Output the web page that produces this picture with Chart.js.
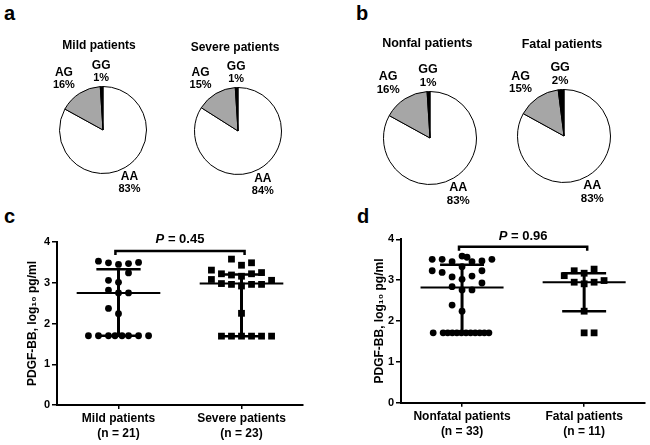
<!DOCTYPE html>
<html><head><meta charset="utf-8">
<script src="https://cdn.jsdelivr.net/npm/chart.js@4.4.0/dist/chart.umd.min.js"></script>
<style>
html,body{margin:0;padding:0;background:#fff;}
#wrap{position:relative;width:650px;height:445px;overflow:hidden;background:#fff;font-family:"Liberation Sans",Arial,sans-serif;}
canvas{position:absolute;}
.lbl{position:absolute;font-weight:bold;font-size:20px;line-height:20px;color:#000;}
</style></head><body>
<div id="wrap">
<div class="lbl" style="left:4px;top:3px">a</div>
<div class="lbl" style="left:356px;top:3px">b</div>
<div class="lbl" style="left:4px;top:206px">c</div>
<div class="lbl" style="left:357px;top:206px">d</div>
<canvas id="pMild" width="160" height="200" style="left:23px;top:20px"></canvas>
<canvas id="pSevere" width="160" height="200" style="left:158px;top:21px"></canvas>
<canvas id="pNonfatal" width="160" height="200" style="left:350px;top:28px"></canvas>
<canvas id="pFatal" width="160" height="200" style="left:484px;top:26px"></canvas>
<canvas id="cChart" width="325" height="225" style="left:0px;top:220px"></canvas>
<canvas id="dChart" width="325" height="225" style="left:325px;top:220px"></canvas>
</div>
<script>
// ---------- data ----------
const genotypes = ['AA', 'AG', 'GG'];
const mildPct = [83, 16, 1];
const severePct = [84, 15, 1];
const nonfatalPct = [83, 16, 1];
const fatalPct = [83, 15, 2];

const yTicks = [0, 1, 2, 3, 4];

const cCategories = ['Mild patients', 'Severe patients'];
const cCounts = ['(n = 21)', '(n = 23)'];
const dCategories = ['Nonfatal patients', 'Fatal patients'];
const dCounts = ['(n = 33)', '(n = 11)'];

const mildValues = [3.53,3.49,3.45,3.47,3.50, 3.24, 3.06,3.01, 2.82,2.75,2.75, 2.37,2.24, 1.70,1.70,1.70,1.70,1.70,1.70,1.70,1.70];
const mildSlots  = [-2,-1,0,1,2, 1, -1,0, -1,0,1, -1,0, -3,-2,-1,-0.35,0.35,1,2,3];
const mildStats  = [1.70, 2.75, 3.33]; // q1, median, q3

const severeValues = [3.58,3.43,3.49, 3.31,3.22,3.19,3.16,3.22,3.25, 3.08,2.98,2.96,2.92,2.96,2.96,3.06, 2.25, 1.69,1.69,1.69,1.69,1.69,1.69];
const severeSlots  = [-1,0,1, -3,-2,-1,0,1,2, -3,-2,-1,0,1,2,3, 0, -2,-1,0,1,2,3];
const severeStats  = [1.69, 2.98, 3.20];

const nonfatalValues = [3.51,3.51,3.45,3.59,3.56,3.45,3.47,3.51, 3.33, 3.23,3.19,3.23, 3.08,3.02,3.10, 2.93, 2.84,2.76,2.76, 2.39, 2.24,
  1.71,1.71,1.71,1.71,1.71,1.71,1.71,1.71,1.71,1.71,1.71,1.71];
const nonfatalSlots  = [-3,-2,-1,0,0.5,1,2,3, 0, -3,-2,2, -1,0,1, 2, -1,0,1, -1, 0,
  -2.9,-1.9,-1.44,-0.98,-0.52,-0.06,0.4,0.86,1.32,1.78,2.24,2.7];
const nonfatalStats  = [1.71, 2.82, 3.38];

const fatalValues = [3.11,3.23,3.17,3.27, 2.95,2.91,2.95,2.99, 2.24, 1.71,1.71];
const fatalSlots  = [-2,-1,0,1, -1,0,1,2, 0, 0,1];
const fatalStats  = [2.24, 2.95, 3.17];

const cPText = '0.45';
const dPText = '0.96';

// ---------- styling ----------
const FONT = '"Liberation Sans", Arial, sans-serif';
Chart.defaults.font.family = FONT;
Chart.defaults.color = '#000';

const pieDecor = {
  id: 'pieDecor',
  afterDraw(chart, args, o) {
    const ctx = chart.ctx;
    const meta = chart.getDatasetMeta(0);
    const a0 = meta.data[0];
    const cx = a0.x, cy = a0.y, r = a0.outerRadius;
    const vals = chart.data.datasets[0].data;
    ctx.save();
    ctx.fillStyle = '#000';
    ctx.textAlign = 'center';
    ctx.textBaseline = 'middle';
    ctx.font = 'bold ' + o.titleSize + 'px ' + FONT;
    ctx.fillText(o.title, cx + o.titleDx, cy - o.titleDy);
    meta.data.forEach((arc, i) => {
      const mid = (arc.startAngle + arc.endAngle) / 2 + o.angleShift[i] * Math.PI / 180;
      const d = r * o.labelDist[i];
      const x = cx + Math.cos(mid) * d, y = cy + Math.sin(mid) * d;
      ctx.font = 'bold ' + o.labelSize + 'px ' + FONT;
      ctx.fillText(chart.data.labels[i], x, y - o.lineGap / 2);
      ctx.font = 'bold ' + o.pctSize + 'px ' + FONT;
      ctx.fillText(vals[i] + '%', x, y + o.lineGap / 2);
    });
    ctx.restore();
  }
};

function pieChart(id, data, r, title, titleDx, titleDy, big) {
  new Chart(document.getElementById(id), {
    type: 'pie',
    data: { labels: genotypes, datasets: [{ data: data, backgroundColor: ['#ffffff', '#a6a6a6', '#000000'], borderColor: '#000', borderWidth: 1 }] },
    options: {
      responsive: false, animation: false,
      layout: { padding: { left: 80 - r, right: 80 - r, top: 110 - r, bottom: 90 - r } },
      plugins: {
        legend: { display: false }, tooltip: { enabled: false },
        pieDecor: {
          title: title, titleDx: titleDx, titleDy: titleDy,
          titleSize: big ? 12.5 : 12, labelSize: big ? 12.5 : 12, pctSize: big ? 11.5 : 11,
          lineGap: big ? 13 : 12,
          labelDist: [1.36, 1.48, 1.33], angleShift: [4, -5, 0]
        }
      }
    },
    plugins: [pieDecor]
  });
}

pieChart('pMild', mildPct, 44, 'Mild patients', -4, 84.5, false);
pieChart('pSevere', severePct, 44, 'Severe patients', -3, 83, false);
pieChart('pNonfatal', nonfatalPct, 47, 'Nonfal patients', -2.7, 94, true);
pieChart('pFatal', fatalPct, 47, 'Fatal patients', -2, 91, true);

const SLOT = 0.163, MED_HALF = 0.68, Q_HALF = 0.36, SIG_PAD = 0.05, SIG_DROP = 0.1;

function lineDs(points, w) {
  return { data: points, showLine: true, borderColor: '#000', backgroundColor: '#000', borderWidth: w, pointRadius: 0, pointHoverRadius: 0, clip: false, tension: 0, fill: false };
}

const pLabel = {
  id: 'pLabel',
  afterDraw(chart, args, o) {
    const ctx = chart.ctx;
    const xs = chart.scales.x, ys = chart.scales.y;
    const x = xs.getPixelForValue(2), y = ys.getPixelForValue(o.sigY) - o.dy;
    ctx.save();
    ctx.fillStyle = '#000';
    ctx.textBaseline = 'middle';
    ctx.textAlign = 'left';
    const f1 = 'italic bold 13px ' + FONT, f2 = 'bold 13px ' + FONT;
    ctx.font = f1; const w1 = ctx.measureText('P').width;
    const rest = ' = ' + o.text;
    ctx.font = f2; const w2 = ctx.measureText(rest).width;
    const x0 = x - (w1 + w2) / 2;
    ctx.font = f1; ctx.fillText('P', x0, y);
    ctx.font = f2; ctx.fillText(rest, x0 + w1, y);
    ctx.restore();
  }
};

function dotChart(id, groups, cats, counts, sigY, pText, lay) {
  const catPos = [1, 3];
  const datasets = [];
  groups.forEach((g, k) => {
    const pos = catPos[k];
    const [q1, med, q3] = g.stats;
    datasets.push(lineDs([{ x: pos, y: q1 }, { x: pos, y: q3 }], 3));
    datasets.push(lineDs([{ x: pos - MED_HALF, y: med }, { x: pos + MED_HALF, y: med }], 2));
    datasets.push(lineDs([{ x: pos - Q_HALF, y: q3 }, { x: pos + Q_HALF, y: q3 }], 2.5));
    datasets.push(lineDs([{ x: pos - Q_HALF, y: q1 }, { x: pos + Q_HALF, y: q1 }], 2.5));
    datasets.push({
      data: g.values.map((v, i) => ({ x: pos + g.slots[i] * SLOT, y: v })),
      showLine: false, pointStyle: g.style, pointRadius: g.style === 'rect' ? 4.8 : 3.4,
      pointHoverRadius: 0, backgroundColor: '#000', borderColor: '#000', borderWidth: 0, clip: false
    });
  });
  datasets.push(lineDs([
    { x: catPos[0] - SIG_PAD, y: sigY - SIG_DROP }, { x: catPos[0] - SIG_PAD, y: sigY },
    { x: catPos[1] + SIG_PAD, y: sigY }, { x: catPos[1] + SIG_PAD, y: sigY - SIG_DROP }], 2.5));

  new Chart(document.getElementById(id), {
    type: 'scatter',
    data: { datasets: datasets },
    options: {
      responsive: false, animation: false,
      layout: { padding: { left: lay.padLeft, right: lay.padRight, top: lay.padTop, bottom: 0 } },
      plugins: { legend: { display: false }, tooltip: { enabled: false }, pLabel: { sigY: sigY, dy: lay.pDy, text: pText } },
      scales: {
        x: {
          type: 'linear', min: 0, max: 4,
          afterBuildTicks: s => { s.ticks = catPos.map(v => ({ value: v })); },
          afterFit: s => { s.height = lay.xHeight; },
          ticks: {
            callback: v => { const i = catPos.indexOf(v); return i >= 0 ? [cats[i], counts[i]] : ''; },
            font: { size: 12, weight: 'bold', lineHeight: 1.25 }, color: '#000', padding: 2, maxRotation: 0, autoSkip: false
          },
          grid: { display: true, drawOnChartArea: false, drawTicks: true, tickLength: 4, color: '#000', lineWidth: 1.5 },
          border: { display: true, color: '#000', width: 2 }
        },
        y: {
          type: 'linear', min: 0, max: 4,
          afterBuildTicks: s => { s.ticks = yTicks.map(v => ({ value: v })); },
          afterFit: s => { s.width = lay.yWidth; },
          ticks: { font: { size: 11, weight: 'bold' }, color: '#000', padding: 2 },
          grid: { display: true, drawOnChartArea: false, drawTicks: true, tickLength: 5, color: '#000', lineWidth: 1.5 },
          border: { display: true, color: '#000', width: 2 },
          title: { display: true, text: 'PDGF-BB, log\u2081\u2080 pg/ml', font: { size: 12, weight: 'bold', lineHeight: 1.2 }, color: '#000', padding: { top: 6, bottom: 0 } }
        }
      }
    },
    plugins: [pLabel]
  });
}

dotChart('cChart', [
  { values: mildValues, slots: mildSlots, stats: mildStats, style: 'circle' },
  { values: severeValues, slots: severeSlots, stats: severeStats, style: 'rect' }
], cCategories, cCounts, 3.78, cPText, { padLeft: 19.8, padRight: 22, padTop: 22, xHeight: 40, yWidth: 37.2, pDy: 12 });

dotChart('dChart', [
  { values: nonfatalValues, slots: nonfatalSlots, stats: nonfatalStats, style: 'circle' },
  { values: fatalValues, slots: fatalSlots, stats: fatalStats, style: 'rect' }
], dCategories, dCounts, 3.82, dPText, { padLeft: 41.3, padRight: 3, padTop: 19.3, xHeight: 42.3, yWidth: 34.7, pDy: 10.5 });
</script>
</body></html>
